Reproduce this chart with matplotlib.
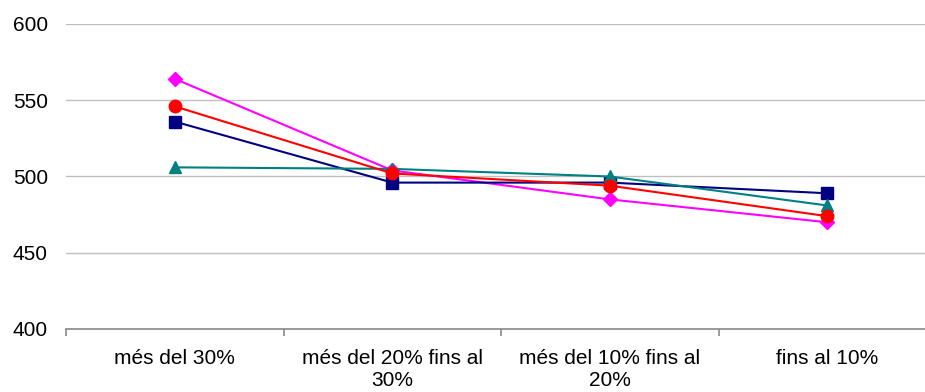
import matplotlib
matplotlib.use("Agg")
import matplotlib.pyplot as plt
import numpy as np

categories = ["més del 30%", "més del 20% fins al\n30%", "més del 10% fins al\n20%", "fins al 10%"]
magenta_vals = [564, 504, 485, 470]
navy_vals = [536, 496, 496, 489]
teal_vals = [506, 505, 500, 481]
red_vals = [546, 502, 494, 474]
y_ticks = [400, 450, 500, 550, 600]

plt.rcParams['font.family'] = ['Liberation Sans', 'DejaVu Sans']

fig = plt.figure(figsize=(9.25, 3.92), dpi=100)
ax = fig.add_axes([66/925, (392-329)/392, (936-66)/925, (329-24)/392])

x = np.arange(len(categories))
ax.plot(x, magenta_vals, color='#FF00FF', marker='D', markersize=7, lw=1.5, zorder=3)
ax.plot(x, navy_vals, color='#000080', marker='s', markersize=8, lw=1.5, zorder=3)
ax.plot(x, teal_vals, color='#008080', marker='^', markersize=9, lw=1.5, zorder=3)
ax.plot(x, red_vals, color='#FF0000', marker='o', markersize=9, lw=1.5, zorder=4)

ax.set_xlim(-0.5, 3.5)
ax.set_ylim(400, 600)
ax.set_yticks(y_ticks)
ax.yaxis.grid(True, color='#BFBFBF', lw=1)
ax.set_axisbelow(True)
for s in ['left', 'right', 'top']:
    ax.spines[s].set_visible(False)
ax.spines['bottom'].set_color('#888888')
ax.spines['bottom'].set_linewidth(1.2)
ax.tick_params(axis='y', length=0, pad=13)

ax.set_xticks(x)
ax.set_xticklabels(categories, fontsize=15, linespacing=1.2)
ax.tick_params(axis='x', length=0, pad=14.5)
ax.set_xticks(np.arange(-0.5, 3.6, 1), minor=True)
ax.tick_params(axis='x', which='minor', length=5, color='#888888', width=1.2)
ax.set_yticklabels([str(v) for v in y_ticks], fontsize=15)

fig.savefig("out.png", dpi=100)
